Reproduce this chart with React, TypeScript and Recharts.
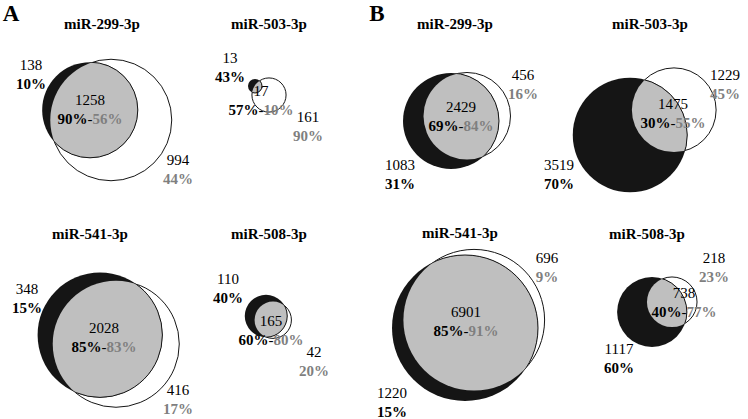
import React from 'react';
import { ScatterChart, Scatter, XAxis, YAxis, ZAxis } from 'recharts';

const W = 748;
const H = 419;

// ---- categories ----
const mirnas = ['miR-299-3p', 'miR-503-3p', 'miR-541-3p', 'miR-508-3p'];
const panelLetters = ['A', 'B'];

// ---- panel A values ----
const aOnlyFirst = [138, 13, 348, 110];
const aShared = [1258, 17, 2028, 165];
const aOnlySecond = [994, 161, 416, 42];
const aPctOnlyFirst = [10, 43, 15, 40];
const aPctSharedFirst = [90, 57, 85, 60];
const aPctSharedSecond = [56, 10, 83, 80];
const aPctOnlySecond = [44, 90, 17, 20];

// ---- panel B values ----
const bOnlyFirst = [1083, 3519, 1220, 1117];
const bShared = [2429, 1475, 6901, 738];
const bOnlySecond = [456, 1229, 696, 218];
const bPctOnlyFirst = [31, 70, 15, 60];
const bPctSharedFirst = [69, 30, 85, 40];
const bPctSharedSecond = [84, 55, 91, 77];
const bPctOnlySecond = [16, 45, 9, 23];

// ---- layout (chart coordinates) ----
type Pt = [number, number];
const aFirstCenters: Pt[] = [[90, 110], [255, 86], [100, 335], [266, 316]];
const aSecondCenters: Pt[] = [[111, 120], [269, 95], [116, 344], [273, 320]];
const bFirstCenters: Pt[] = [[451, 121], [630, 135], [465, 328], [652, 312]];
const bSecondCenters: Pt[] = [[467, 116], [674, 110], [474, 320], [672, 302]];

const aTitlePos: Pt[] = [[102, 24], [269, 24], [90, 234], [269, 234]];
const aOnlyFirstPos: Pt[] = [[31, 65], [230, 58], [27, 289], [228, 279]];
const aSharedPos: Pt[] = [[90, 100], [261, 91], [104, 328], [271, 321]];
const aOnlySecondPos: Pt[] = [[178, 160], [308, 117], [178, 390], [314, 352]];
const bTitlePos: Pt[] = [[455, 24], [650, 24], [460, 233], [647, 234]];
const bOnlyFirstPos: Pt[] = [[400, 165], [559, 165], [392, 393], [619, 349]];
const bSharedPos: Pt[] = [[461, 107], [673, 104], [466, 312], [684, 293]];
const bOnlySecondPos: Pt[] = [[523, 75], [725, 75], [547, 258], [714, 258]];
const letterPos: Pt[] = [[11, 13], [377, 13]];
const lineGap = 19;

// area scale (px^2 per count) for each panel
const aAreaPerCount = Math.PI * 1.28 * 1.28;
const bAreaPerCount = Math.PI * 0.81 * 0.81;
const zMax = 10000;

const FONT = '"Liberation Serif", "Times New Roman", serif';
const DARK = '#151515';
const GREY_FILL = '#bfbfbf';
const GREY_TEXT = '#7f7f7f';

function circles(prefix: string, centers: Pt[], counts: number[]) {
  return mirnas.map((m, i) => ({ x: centers[i][0], y: centers[i][1], z: counts[i], id: `${prefix}${i}`, name: m }));
}

const aFirst = circles('A', aFirstCenters, aOnlyFirst.map((v, i) => v + aShared[i]));
const aSecond = circles('A', aSecondCenters, aOnlySecond.map((v, i) => v + aShared[i]));
const bFirst = circles('B', bFirstCenters, bOnlyFirst.map((v, i) => v + bShared[i]));
const bSecond = circles('B', bSecondCenters, bOnlySecond.map((v, i) => v + bShared[i]));

function buildLabels(
  titles: Pt[], onlyFirstPos: Pt[], sharedPos: Pt[], onlySecondPos: Pt[],
  onlyFirst: number[], shared: number[], onlySecond: number[],
  p1: number[], ps1: number[], ps2: number[], p2: number[]
) {
  const out: any[] = [];
  mirnas.forEach((m, i) => {
    out.push({ x: titles[i][0], y: titles[i][1], kind: 'title', text: m });
    out.push({ x: onlyFirstPos[i][0], y: onlyFirstPos[i][1], kind: 'count', text: String(onlyFirst[i]) });
    out.push({ x: onlyFirstPos[i][0], y: onlyFirstPos[i][1] + lineGap, kind: 'pctFirst', text: `${p1[i]}%` });
    out.push({ x: sharedPos[i][0], y: sharedPos[i][1], kind: 'count', text: String(shared[i]) });
    out.push({ x: sharedPos[i][0], y: sharedPos[i][1] + lineGap, kind: 'pctShared', a: `${ps1[i]}%`, b: `${ps2[i]}%` });
    out.push({ x: onlySecondPos[i][0], y: onlySecondPos[i][1], kind: 'count', text: String(onlySecond[i]) });
    out.push({ x: onlySecondPos[i][0], y: onlySecondPos[i][1] + lineGap, kind: 'pctSecond', text: `${p2[i]}%` });
  });
  return out;
}

const labels = [
  ...panelLetters.map((l, i) => ({ x: letterPos[i][0], y: letterPos[i][1], kind: 'letter', text: l })),
  ...buildLabels(aTitlePos, aOnlyFirstPos, aSharedPos, aOnlySecondPos, aOnlyFirst, aShared, aOnlySecond,
    aPctOnlyFirst, aPctSharedFirst, aPctSharedSecond, aPctOnlySecond),
  ...buildLabels(bTitlePos, bOnlyFirstPos, bSharedPos, bOnlySecondPos, bOnlyFirst, bShared, bOnlySecond,
    bPctOnlyFirst, bPctSharedFirst, bPctSharedSecond, bPctOnlySecond),
];

function radiusOf(p: any) {
  if (typeof p.size === 'number' && p.size > 0) return Math.sqrt(p.size / Math.PI);
  return (p.width || 0) / 2;
}

const SecondShape = (p: any) => {
  const r = radiusOf(p);
  return (
    <g>
      <defs>
        <clipPath id={`clip-${p.payload.id}`}>
          <circle cx={p.cx} cy={p.cy} r={r} />
        </clipPath>
      </defs>
      <circle cx={p.cx} cy={p.cy} r={r} fill="#ffffff" stroke={DARK} strokeWidth={1} />
    </g>
  );
};

const FirstShape = (p: any) => {
  const r = radiusOf(p);
  return <circle cx={p.cx} cy={p.cy} r={r} fill={DARK} stroke="none" />;
};

const OverlapShape = (p: any) => {
  const r = radiusOf(p);
  return (
    <circle cx={p.cx} cy={p.cy} r={r} fill={GREY_FILL} stroke={DARK} strokeWidth={1}
      clipPath={`url(#clip-${p.payload.id})`} />
  );
};

const LabelShape = (p: any) => {
  const d = p.payload;
  const common: any = { x: p.cx, y: p.cy, textAnchor: 'middle', dominantBaseline: 'central', fontFamily: FONT };
  switch (d.kind) {
    case 'letter':
      return <text {...common} fontSize={23} fontWeight="bold" fill="#000">{d.text}</text>;
    case 'title':
      return <text {...common} fontSize={15} fontWeight="bold" fill="#000">{d.text}</text>;
    case 'count':
      return <text {...common} fontSize={15} fill="#000">{d.text}</text>;
    case 'pctFirst':
      return <text {...common} fontSize={15} fontWeight="bold" fill="#000">{d.text}</text>;
    case 'pctSecond':
      return <text {...common} fontSize={15} fontWeight="bold" fill={GREY_TEXT}>{d.text}</text>;
    case 'pctShared':
      return (
        <text {...common} fontSize={15}>
          <tspan fontWeight="bold" fill="#000">{d.a}</tspan>
          <tspan fill="#000">-</tspan>
          <tspan fontWeight="bold" fill={GREY_TEXT}>{d.b}</tspan>
        </text>
      );
    default:
      return <g />;
  }
};

export default function App() {
  return (
    <div style={{ position: 'absolute', left: 0, top: 0, width: W, height: H, background: '#fff' }}>
      <ScatterChart width={W} height={H} margin={{ top: 0, right: 0, bottom: 0, left: 0 }}>
        <XAxis type="number" dataKey="x" domain={[0, W]} allowDataOverflow hide />
        <YAxis type="number" dataKey="y" domain={[0, H]} allowDataOverflow reversed hide />
        <ZAxis zAxisId="A" type="number" dataKey="z" domain={[0, zMax]} range={[0, aAreaPerCount * zMax]} />
        <ZAxis zAxisId="B" type="number" dataKey="z" domain={[0, zMax]} range={[0, bAreaPerCount * zMax]} />
        <Scatter data={aSecond} zAxisId="A" shape={SecondShape} isAnimationActive={false} />
        <Scatter data={bSecond} zAxisId="B" shape={SecondShape} isAnimationActive={false} />
        <Scatter data={aFirst} zAxisId="A" shape={FirstShape} isAnimationActive={false} />
        <Scatter data={bFirst} zAxisId="B" shape={FirstShape} isAnimationActive={false} />
        <Scatter data={aFirst} zAxisId="A" shape={OverlapShape} isAnimationActive={false} />
        <Scatter data={bFirst} zAxisId="B" shape={OverlapShape} isAnimationActive={false} />
        <Scatter data={labels} zAxisId="A" shape={LabelShape} isAnimationActive={false} />
      </ScatterChart>
    </div>
  );
}
